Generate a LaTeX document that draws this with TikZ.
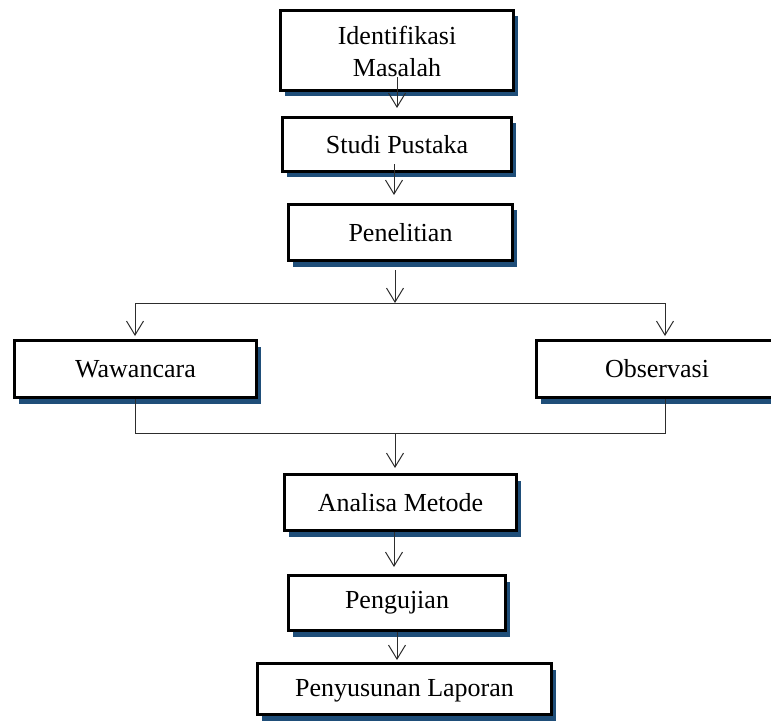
\documentclass[tikz,border=0pt]{standalone}
\usepackage{fontspec}
\setmainfont{Liberation Serif}
\usetikzlibrary{arrows.meta,shadows}
\definecolor{shadowblue}{RGB}{31,78,121}
\definecolor{linegray}{RGB}{45,45,45}
\begin{document}
\begin{tikzpicture}[x=1pt,y=-1pt,
  box/.style={draw=black, line width=3pt, fill=white, inner sep=0pt,
    font=\fontsize{26}{32}\selectfont, align=center,
    drop shadow={shadow xshift=4.5pt, shadow yshift=-6pt, fill=shadowblue, opacity=1}},
  conn/.style={draw=linegray, line width=1pt},
  arr/.style={conn, -{Straight Barb[length=14pt,width=17pt,line width=1pt]}}]
\useasboundingbox (0,0) rectangle (771,722);
\clip (0,0) rectangle (771,722);

\node[box, minimum width=233pt, minimum height=80pt] (b1) at (397,50.5)
  {\raisebox{-4pt}[\height][\depth]{\begin{tabular}{@{}c@{}}Identifikasi\\Masalah\end{tabular}}};
\node[box, minimum width=229pt, minimum height=54pt] (b2) at (397,144.5) {Studi Pustaka};
\node[box, minimum width=224pt, minimum height=56pt] (b3) at (400.5,232.5) {Penelitian};
\node[box, minimum width=242pt, minimum height=57pt] (w) at (135.5,369) {Wawancara};
\node[box, minimum width=241pt, minimum height=57pt] (o) at (657,369) {Observasi};
\node[box, minimum width=232pt, minimum height=56pt] (am) at (400.5,502.5) {Analisa Metode};
\node[box, minimum width=217pt, minimum height=55pt] (pg) at (397,603) {Pengujian};
\node[box, minimum width=294pt, minimum height=51pt] (pl) at (404.5,689)
  {\raisebox{-2pt}[\height][\depth]{Penyusunan Laporan}};

\coordinate (sL) at (135,303);
\coordinate (sR) at (665,303);
\coordinate (split) at (395,303);
\coordinate (jL) at (135,433);
\coordinate (jR) at (665,433);
\coordinate (join) at (395,433);
\coordinate (c1) at (397,0);
\coordinate (c2) at (394,0);
\coordinate (c3) at (394,0);
\coordinate (c4) at (397,0);

% top chain
\draw[arr] ([yshift=14.5pt]b1.south -| c1) -- ([yshift=8pt]b2.north -| c1);
\draw[arr] ([yshift=8.5pt]b2.south -| c2) -- ([yshift=8pt]b3.north -| c2);

% split
\draw[arr] ([yshift=-8pt]b3.south -| split) -- (split);
\draw[conn] (sL) -- (sR);
\draw[arr] (sL) -- ([yshift=3pt]w.north -| sL);
\draw[arr] (sR) -- ([yshift=3pt]o.north -| sR);

% join
\draw[conn] (w.south -| jL) -- (jL) -- (jR) -- (o.south -| jR);
\draw[arr] (join) -- ([yshift=5pt]am.north -| join);

% bottom chain
\draw[arr] (am.south -| c3) -- ([yshift=7pt]pg.north -| c3);
\draw[arr] (pg.south -| c4) -- ([yshift=2pt]pl.north -| c4);
\end{tikzpicture}
\end{document}
